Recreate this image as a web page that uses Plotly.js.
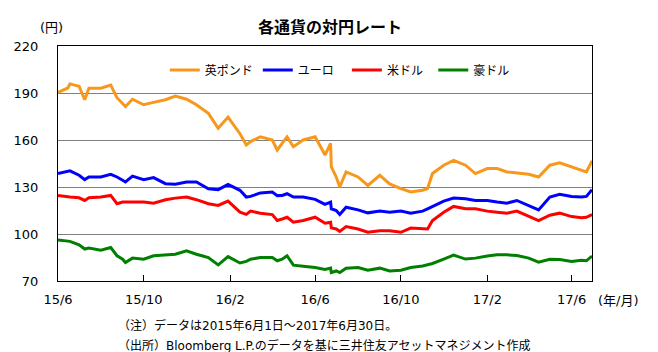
<!DOCTYPE html>
<html>
<head>
<meta charset="utf-8">
<script src="https://cdn.plot.ly/plotly-3.0.1.min.js"></script>
<style>html,body{margin:0;padding:0;background:#fff;}#chart{width:658px;height:352px;}</style>
</head>
<body>
<div id="chart"></div>
<script>
const dates = ['2015-06-01','2015-06-15','2015-06-18','2015-07-01','2015-07-09','2015-07-15','2015-08-01','2015-08-15','2015-08-24','2015-09-01','2015-09-05','2015-09-15','2015-10-01','2015-10-15','2015-11-01','2015-11-15','2015-12-01','2015-12-15','2016-01-01','2016-01-15','2016-01-29','2016-02-15','2016-02-24','2016-03-01','2016-03-15','2016-04-01','2016-04-08','2016-04-15','2016-04-22','2016-05-01','2016-05-15','2016-06-01','2016-06-15','2016-06-23','2016-06-24','2016-07-01','2016-07-06','2016-07-15','2016-08-01','2016-08-15','2016-09-01','2016-09-15','2016-10-01','2016-10-15','2016-11-01','2016-11-08','2016-11-15','2016-12-01','2016-12-15','2017-01-01','2017-01-15','2017-02-01','2017-02-15','2017-03-01','2017-03-15','2017-04-01','2017-04-15','2017-05-01','2017-05-15','2017-06-01','2017-06-15','2017-06-22','2017-06-30'];
const gbp = [190.4,193.2,195.8,194.3,185.7,193.0,193.0,195.0,187.0,183.6,181.4,186.0,182.5,184.0,185.7,188.0,186.0,182.5,177.0,167.5,174.6,164.0,156.8,159.0,162.0,160.0,153.6,157.9,162.0,155.7,160.0,162.0,150.4,157.9,142.9,136.4,130.0,139.6,136.4,131.0,137.5,132.0,128.9,126.8,127.9,129.0,138.6,143.9,147.0,143.9,138.6,141.8,141.8,139.6,139.0,138.1,136.4,143.9,145.4,142.9,140.7,139.6,146.7];
const eur = [138.6,140.3,140.3,137.5,134.7,136.4,136.4,138.1,136.4,134.3,133.2,136.9,134.7,136.0,132.1,131.7,133.2,133.2,128.9,128.3,131.7,127.9,123.6,124.0,126.2,126.8,124.5,124.6,125.7,123.6,123.6,122.1,118.9,120.4,116.1,115.0,112.4,117.1,115.4,113.5,114.6,113.9,114.6,113.3,114.6,116.1,117.6,121.0,122.9,122.5,121.4,121.4,120.4,119.7,121.4,118.2,115.4,123.6,125.3,124.0,123.6,124.0,128.3];
const usd = [124.6,123.6,123.6,123.1,121.4,123.1,123.6,124.6,119.3,120.4,120.4,120.4,120.4,119.7,121.9,122.9,123.6,121.9,119.3,118.2,121.0,113.9,112.5,114.6,113.3,112.4,108.6,109.6,110.7,107.5,108.6,110.7,106.9,107.5,103.9,103.2,101.7,104.7,103.2,101.1,102.1,102.1,101.1,103.8,103.2,103.2,108.6,113.9,117.6,116.1,116.1,114.6,113.9,113.3,114.6,111.1,108.6,112.0,113.3,111.1,110.3,110.7,112.4];
const aud = [96.1,95.7,95.3,93.1,90.4,91.0,89.7,91.4,86.1,83.9,81.8,84.6,83.9,86.1,86.7,87.1,89.3,87.1,85.0,80.3,85.6,81.5,82.5,83.9,85.0,85.0,82.9,83.9,86.1,80.1,79.4,78.6,77.3,78.2,75.4,76.4,75.4,78.2,78.6,76.9,78.2,76.4,76.9,78.6,79.6,80.3,81.2,84.0,86.5,84.0,84.6,85.9,86.7,86.7,86.3,84.6,82.0,83.9,83.7,82.4,83.3,82.9,85.9];
const seriesNames = ['英ポンド','ユーロ','米ドル','豪ドル'];
const tickDates = ['2015-06-01','2015-10-01','2016-02-01','2016-06-01','2016-10-01','2017-02-01','2017-06-01'];
const tickLabels = ['15/6','15/10','16/2','16/6','16/10','17/2','17/6'];
const yTicks = [70,100,130,160,190,220];

const FONT = 'DejaVu Sans, "Noto Sans CJK JP", sans-serif';
const colors = ['#F7981D','#0000FF','#FF0000','#008000'];
const pads = ['', '\u00a0\u00a0\u00a0', '\u00a0\u00a0', ''];
const vals = [gbp, eur, usd, aud];
const data = vals.map((v,i)=>({
  type:'scatter', mode:'lines', x:dates, y:v, name:seriesNames[i] + pads[i],
  line:{color:colors[i], width:3}
}));

const layout = {
  width:658, height:352,
  margin:{l:58, r:66, t:46, b:71, pad:0},
  paper_bgcolor:'#fff', plot_bgcolor:'#fff',
  font:{family:FONT, size:13, color:'#000'},
  showlegend:true,
  legend:{orientation:'h', x:0.2, xanchor:'left', y:0.898, yanchor:'middle',
    font:{family:'"Noto Sans CJK JP", sans-serif', size:12, color:'#000'}, bgcolor:'rgba(0,0,0,0)', traceorder:'normal'},
  title:{text:'<b>各通貨の対円レート</b>', x:0.5015, xref:'container', xanchor:'center', y:0.923, yref:'container', yanchor:'middle',
    font:{family:'"Noto Sans CJK JP", sans-serif', size:16, color:'#000'}},
  xaxis:{type:'date', range:['2015-06-01','2017-06-30'], tickmode:'array', tickvals:tickDates, ticktext:tickLabels,
    ticks:'inside', ticklen:6, tickcolor:'#000', tickwidth:1, showline:true, linecolor:'#000', linewidth:1, mirror:true,
    showgrid:false, zeroline:false, tickfont:{size:13, family:FONT}, ticklabelstandoff:6},
  yaxis:{range:[70,220], tickmode:'array', tickvals:yTicks, showline:true, linecolor:'#000', linewidth:1, mirror:true,
    showgrid:true, gridcolor:'#808080', gridwidth:1, zeroline:false, ticks:'', tickfont:{size:13, family:FONT}, ticklabelstandoff:16},
  annotations:[
    {text:'(円)', xref:'paper', yref:'paper', x:-0.0375, xanchor:'left', y:1.0766, yanchor:'middle', showarrow:false, font:{size:13, family:FONT}},
    {text:'(年/月)', xref:'paper', yref:'paper', x:1.0075, xanchor:'left', y:-0.081, yanchor:'middle', showarrow:false, font:{size:13, family:FONT}},
    {text:'（注）データは2015年6月1日～2017年6月30日。', xref:'paper', yref:'paper', x:(116-58)/534, xanchor:'left', y:(281-325)/235, yanchor:'middle', showarrow:false, font:{size:12, family:FONT}},
    {text:'（出所）Bloomberg L.P.のデータを基に三井住友アセットマネジメント作成', xref:'paper', yref:'paper', x:(116-58)/534, xanchor:'left', y:(281-345)/235, yanchor:'middle', showarrow:false, font:{size:12, family:FONT}}
  ]
};
Plotly.newPlot('chart', data, layout, {displayModeBar:false, staticPlot:true});
</script>
</body>
</html>
